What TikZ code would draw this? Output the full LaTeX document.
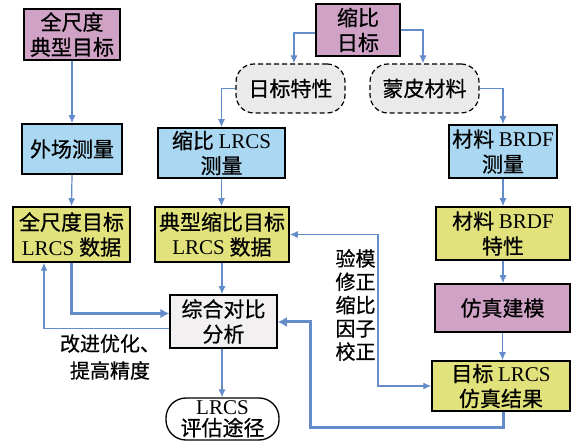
\documentclass[tikz,border=0pt]{standalone}
\usepackage{fontspec}
\setmainfont{Liberation Serif}
\newfontfamily\cjk[FakeBold=0.6]{Noto Sans CJK SC}
\usetikzlibrary{arrows.meta}
\newcommand\entxt[1]{{\rmfamily #1}}
\definecolor{purp}{RGB}{207,162,198}
\definecolor{lblue}{RGB}{170,216,242}
\definecolor{ylw}{RGB}{226,226,124}
\definecolor{bgray}{RGB}{234,234,234}
\definecolor{cgray}{RGB}{242,240,240}
\definecolor{lnblue}{RGB}{100,140,202}
\tikzset{
  box/.style={draw=black, line width=1.5pt, align=center, inner sep=0pt,
    font=\cjk\fontsize{21}{25}\selectfont},
  pbox/.style={box, fill=purp},
  bbox/.style={box, fill=lblue},
  ybox/.style={box, fill=ylw},
  bubble/.style={draw=black, line width=1.2pt, dash pattern=on 5pt off 3pt,
    rounded corners=18pt, fill=bgray, align=center, inner sep=0pt,
    minimum width=109pt, minimum height=49pt,
    font=\cjk\fontsize{21}{25}\selectfont},
  arr/.style={draw=lnblue, line width=1.2pt, -{Latex[length=8pt,width=7pt]}},
  arrboth/.style={draw=lnblue, line width=1.2pt, {Latex[length=8pt,width=7pt]}-{Latex[length=8pt,width=7pt]}},
  thick arr/.style={draw=lnblue, line width=3pt, -{Latex[length=9pt,width=10pt]}},
  lbl/.style={align=center, inner sep=0pt, font=\cjk\fontsize{20}{27}\selectfont}
}
\begin{document}
\begin{tikzpicture}[x=1pt,y=-1pt]
\useasboundingbox (0,0) rectangle (573,443);
\fill[white] (0,0) rectangle (573,443);

% left column
\node[pbox, minimum width=96pt, minimum height=51pt] (n1) at (72,34.5) {全尺度\\典型目标};
\node[bbox, minimum width=100pt, minimum height=50pt] (n2) at (72,149) {外场测量};
\node[ybox, minimum width=117pt, minimum height=55pt] (n3) at (71.5,234.5) {全尺度目标\\\entxt{LRCS} 数据};

% middle / top
\node[pbox, minimum width=84pt, minimum height=52pt] (m1) at (358,30) {缩比\\日标};
\node[bubble] (b1) at (290.5,88.5) {日标特性};
\node[bubble] (b2) at (424.5,88.5) {蒙皮材料};
\node[bbox, minimum width=127pt, minimum height=50pt] (m2) at (221.5,153) {缩比 \entxt{LRCS}\\测量};
\node[ybox, minimum width=134pt, minimum height=55pt] (m3) at (222,234.5) {典型缩比目标\\\entxt{LRCS} 数据};
\node[box, fill=cgray, minimum width=107pt, minimum height=53pt] (c) at (223.5,321.5) {综合对比\\分析};
\node[draw=black, line width=1.3pt, rounded corners=20pt, fill=white, align=center, inner sep=0pt,
  minimum width=113pt, minimum height=42pt, font=\cjk\fontsize{21}{21}\selectfont] (e) at (222.5,419) {\entxt{LRCS}\\评估途径};

% right column
\node[bbox, minimum width=108pt, minimum height=53pt] (r1) at (503,151.5) {材料 \entxt{BRDF}\\测量};
\node[ybox, minimum width=134pt, minimum height=53pt] (r2) at (503,233.5) {材料 \entxt{BRDF}\\特性};
\node[pbox, minimum width=135pt, minimum height=48pt] (r3) at (502.5,308) {仿真建模};
\node[ybox, minimum width=138pt, minimum height=50pt] (r4) at (501,386) {目标 \entxt{LRCS}\\仿真结果};

% labels
\node[lbl] (t1) at (110,357) {改进优化、\\提高精度};
\node[lbl, font=\cjk\fontsize{20}{23.3}\selectfont] (t2) at (355.5,305) {验模\\修正\\缩比\\因子\\校正};

% connectors
\draw[arr] (n1.south) -- (n2.north);
\draw[arr] (n2.south) -- (n3.north);
\draw[arr] ([yshift=-3pt]m1.west) -| ([xshift=3.5pt]b1.north);
\draw[arr] (m1.east) -| ([xshift=-1.5pt]b2.north);
\draw[arr] (b1.west) -| (m2.north);
\draw[arr] (b2.east) -| (r1.north);
\draw[arr] (m2.south) -- (m2.south |- m3.north);
\draw[arr] (r1.south) -- (r2.north);
\draw[arr] (m3.south) -- (m3.south |- c.north);
\draw[arr] (r2.south) -- (r2.south |- r3.north);
\draw[arr] (r3.south) -- (r3.south |- r4.north);
\draw[arr] (c.south -| m3.south) -- (e.north -| m3.south);

\draw[thick arr] (n3.south) |- ([yshift=8pt]c.west);
\draw[arr] ([yshift=-7pt]c.west) -| ([xshift=-27.5pt]n3.south);

\coordinate (k1) at (310,428);
\coordinate (k2) at (310,322);
\draw[thick arr] ([xshift=2pt]r4.south) |- (k1) -- (k2) -- (c.east |- k2);

\coordinate (v) at (378,300);
\draw[arrboth] (m3.east) -- (m3.east -| v) -- (v |- r4.west) -- (r4.west);
\end{tikzpicture}
\end{document}
